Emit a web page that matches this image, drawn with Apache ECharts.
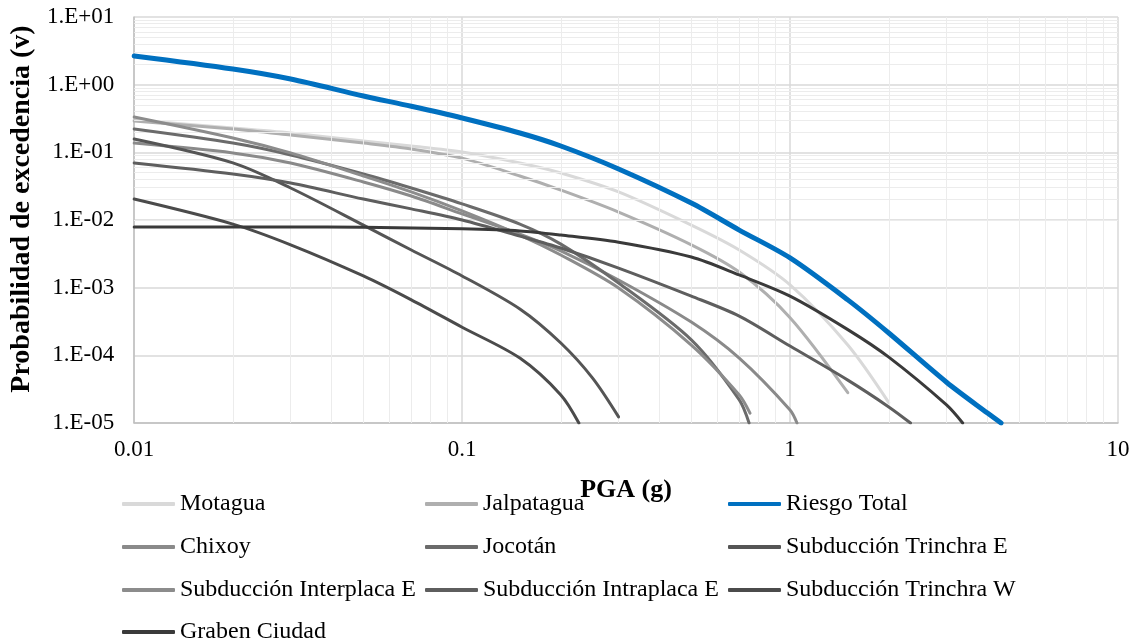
<!DOCTYPE html>
<html><head><meta charset="utf-8">
<script src="https://cdn.jsdelivr.net/npm/echarts@6/dist/echarts.min.js"></script>
<style>html,body{margin:0;padding:0;background:#fff}#c{width:1138px;height:644px}</style>
</head><body><div id="c"></div>
<script>
// ---- data: [PGA (g), probabilidad de excedencia] ----
const motagua = [[0.01,0.30],[0.02,0.229],[0.03,0.193],[0.05,0.147],[0.07,0.124],[0.1,0.101],[0.15,0.0695],[0.2,0.0495],[0.3,0.026],[0.5,0.0084],[0.7,0.0036],[1,0.0011],[1.5,0.000142],[2,0.00002]];
const jalpatagua = [[0.01,0.29],[0.02,0.221],[0.03,0.18],[0.05,0.137],[0.07,0.112],[0.1,0.082],[0.15,0.0447],[0.2,0.0277],[0.3,0.0131],[0.5,0.0043],[0.7,0.0017],[1,0.00036],[1.5,0.000028]];
const riesgoTotal = [[0.01,2.65],[0.02,1.70],[0.03,1.21],[0.05,0.68],[0.07,0.48],[0.1,0.322],[0.15,0.193],[0.2,0.124],[0.3,0.0568],[0.5,0.0178],[0.7,0.0071],[1,0.00275],[1.5,0.00066],[2,0.000214],[3,0.00004],[4,0.000014],[4.4,0.00001]];
const chixoy = [[0.01,0.137],[0.02,0.098],[0.03,0.0695],[0.05,0.0365],[0.07,0.0226],[0.1,0.0123],[0.15,0.0062],[0.2,0.0035],[0.3,0.0013],[0.5,0.00031],[0.7,0.000091],[1,0.0000156],[1.05,0.00001]];
const jocotan = [[0.01,0.221],[0.02,0.137],[0.03,0.0914],[0.05,0.0479],[0.07,0.0297],[0.1,0.0173],[0.15,0.0087],[0.2,0.0044],[0.3,0.00117],[0.5,0.000169],[0.7,0.000022],[0.75,0.00001]];
const trinchraE = [[0.01,0.157],[0.02,0.0697],[0.03,0.0297],[0.05,0.0084],[0.07,0.0036],[0.1,0.00149],[0.15,0.000484],[0.2,0.000152],[0.25,0.000046],[0.3,0.0000123]];
const interplacaE = [[0.01,0.333],[0.02,0.163],[0.03,0.098],[0.05,0.0447],[0.07,0.026],[0.1,0.0136],[0.15,0.006],[0.2,0.00304],[0.3,0.00099],[0.5,0.000142],[0.7,0.000026],[0.755,0.000014]];
const intraplacaE = [[0.01,0.0697],[0.02,0.0479],[0.03,0.0352],[0.05,0.0204],[0.07,0.0146],[0.1,0.01],[0.15,0.0058],[0.2,0.00386],[0.3,0.00195],[0.5,0.00075],[0.7,0.00038],[1,0.000137],[1.5,0.000043],[2,0.0000173],[2.33,0.00001]];
const trinchraW = [[0.01,0.0204],[0.02,0.0087],[0.03,0.0043],[0.05,0.00149],[0.07,0.00066],[0.1,0.00026],[0.15,0.000091],[0.2,0.000026],[0.227,0.00001]];
const grabenCiudad = [[0.01,0.0079],[0.03,0.0079],[0.05,0.0078],[0.1,0.0074],[0.15,0.0069],[0.2,0.006],[0.3,0.0047],[0.5,0.00284],[0.7,0.00154],[1,0.00075],[1.5,0.00024],[2,0.000094],[3,0.0000185],[3.36,0.00001]];

const seriesNames = ['Motagua','Jalpatagua','Riesgo Total','Chixoy','Jocotán','Subducción Trinchra E','Subducción Interplaca E','Subducción Intraplaca E','Subducción Trinchra W','Graben Ciudad'];
const seriesData = [motagua, jalpatagua, riesgoTotal, chixoy, jocotan, trinchraE, interplacaE, intraplacaE, trinchraW, grabenCiudad];
const xTickLabels = ['0.01','0.1','1','10'];

// ---- styling ----
const colors = ['#d9d9d9','#afafaf','#0070c0','#8a8a8a','#6b6b6b','#555555','#8c8c8c','#5e5e5e','#4b4b4b','#3a3a3a'];
const widths = [3,3,5,3,3,3,3,3,3,3];
const FONT = '"Liberation Serif","Times New Roman",serif';

// minor log grid positions (2..9 within each decade)
const minorX = [], minorY = [];
[0.01,0.1,1].forEach(d => { for (let k = 2; k <= 9; k++) minorX.push(+(k*d).toPrecision(3)); });
[1e-5,1e-4,1e-3,1e-2,1e-1,1].forEach(d => { for (let k = 2; k <= 9; k++) minorY.push(+(k*d).toPrecision(3)); });

const series = [{
  name: '_grid', type: 'line', data: [], silent: true, z: 1,
  markLine: {
    silent: true, symbol: 'none', animation: false, label: {show: false},
    lineStyle: {color: '#ececec', width: 1, type: 'solid'},
    emphasis: {disabled: true},
    data: minorX.map(v => ({xAxis: v})).concat(minorY.map(v => ({yAxis: v})))
  }
}];
seriesNames.forEach((n, i) => {
  series.push({
    name: n, type: 'line', data: seriesData[i], showSymbol: false, symbol: 'none',
    smooth: 0.3, z: 3 + i,
    lineStyle: {color: colors[i], width: widths[i], cap: 'round', join: 'round'},
    itemStyle: {color: colors[i]}, emphasis: {disabled: true}
  });
});

// legend layout: 3 columns
const colX = [122, 425, 728];
const rowY = [503, 546, 589, 631];
const legends = seriesNames.map((n, i) => ({
  data: [n], left: colX[i % 3], top: rowY[Math.floor(i / 3)] - 11, padding: 0,
  itemWidth: 53, itemHeight: 4, icon: 'roundRect', selectedMode: false,
  textStyle: {fontFamily: FONT, fontSize: 24, color: '#000'}
}));

const chart = echarts.init(document.getElementById('c'), null, {renderer: 'canvas'});
chart.setOption({
  animation: false,
  backgroundColor: '#fff',
  grid: {left: 131, right: 20, top: 17, bottom: 221, containLabel: false},
  legend: legends,
  xAxis: {
    type: 'log', logBase: 10, min: 0.01, max: 10, splitNumber: 3,
    name: 'PGA (g)', nameLocation: 'middle', nameGap: 54,
    nameTextStyle: {fontFamily: FONT, fontSize: 26, fontWeight: 'bold', color: '#000'},
    axisLine: {show: true, lineStyle: {color: '#bfbfbf', width: 1.5}},
    axisTick: {show: false},
    axisLabel: {fontFamily: FONT, fontSize: 23, color: '#000', margin: 15,
      formatter: v => { const e = Math.round(Math.log10(v)); return xTickLabels[e + 2]; }},
    splitLine: {show: true, lineStyle: {color: '#d9d9d9', width: 1.5}}
  },
  yAxis: {
    type: 'log', logBase: 10, min: 1e-5, max: 10, splitNumber: 6,
    name: 'Probabilidad de excedencia (v)', nameLocation: 'middle', nameGap: 97,
    nameTextStyle: {fontFamily: FONT, fontSize: 28, fontWeight: 'bold', color: '#000', padding: [0, 0, 0, 22]},
    axisLine: {show: true, lineStyle: {color: '#bfbfbf', width: 1.5}},
    axisTick: {show: false},
    axisLabel: {fontFamily: FONT, fontSize: 23, color: '#000', margin: 20,
      formatter: v => { const e = Math.round(Math.log10(v)); return '1.E' + (e >= 0 ? '+' : '-') + String(Math.abs(e)).padStart(2, '0'); }},
    splitLine: {show: true, lineStyle: {color: '#d9d9d9', width: 1.5}}
  },
  series: series
});
</script></body></html>
